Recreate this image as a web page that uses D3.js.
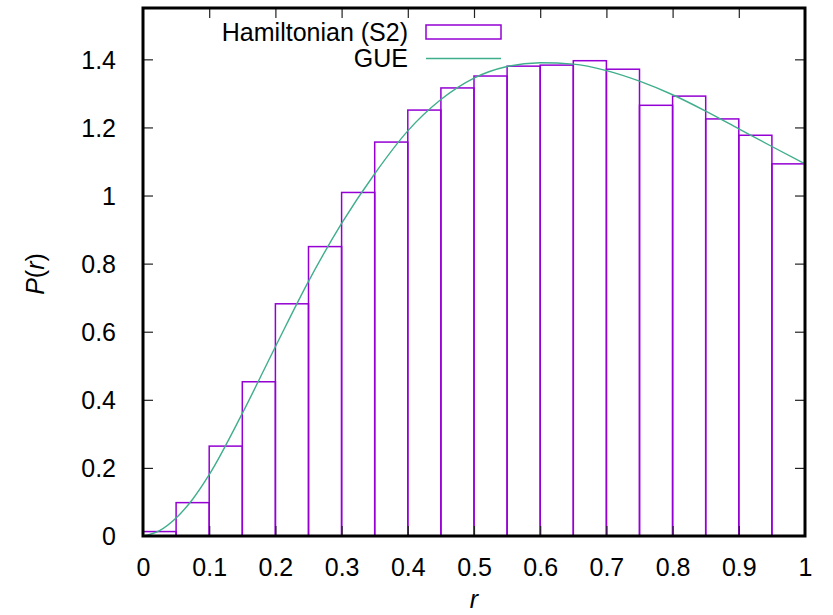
<!DOCTYPE html>
<html>
<head>
<meta charset="utf-8">
<script src="https://cdn.jsdelivr.net/npm/d3@7"></script>
<style>
  html, body { margin: 0; padding: 0; background: #fff; }
  svg { display: block; }
  text { font-family: "Liberation Sans", Arial, sans-serif; fill: #000; }
</style>
</head>
<body>
<svg id="chart" width="833" height="615"></svg>
<script>
// ---- data ----
const binStarts = [0, 0.05, 0.1, 0.15, 0.2, 0.25, 0.3, 0.35, 0.4, 0.45,
                   0.5, 0.55, 0.6, 0.65, 0.7, 0.75, 0.8, 0.85, 0.9, 0.95];
const binWidth = 0.05;
const hamiltonianS2 = [0.013, 0.098, 0.264, 0.453, 0.682, 0.850, 1.009, 1.157, 1.251, 1.316,
                       1.351, 1.380, 1.383, 1.396, 1.371, 1.265, 1.292, 1.225, 1.177, 1.093];
const gueR = [0, 0.025, 0.05, 0.075, 0.1, 0.15, 0.2, 0.25, 0.3, 0.35, 0.4, 0.45,
              0.5, 0.55, 0.6, 0.65, 0.7, 0.75, 0.8, 0.85, 0.9, 0.95, 1];
const gueP = [0, 0.016, 0.053, 0.108, 0.18, 0.36, 0.556, 0.748, 0.918, 1.064, 1.19, 1.282,
              1.345, 1.379, 1.39, 1.386, 1.367, 1.336, 1.296, 1.248, 1.196, 1.144, 1.093];
const xTicks = [0, 0.1, 0.2, 0.3, 0.4, 0.5, 0.6, 0.7, 0.8, 0.9, 1];
const yTicks = [0, 0.2, 0.4, 0.6, 0.8, 1, 1.2, 1.4];
const legendLabels = ["Hamiltonian (S2)", "GUE"];

// ---- layout ----
const svg = d3.select("#chart");
const L = 143, R = 805, T = 8, B = 536;
const x = d3.scaleLinear().domain([0, 1]).range([L, R]);
const y = d3.scaleLinear().domain([0, 1.5508]).range([B, T]);
const purple = "#9400d3";
const green = "#3fae8c";
const fontSize = 25;

// bars
svg.append("g").selectAll("rect").data(binStarts).join("rect")
  .attr("x", d => x(d))
  .attr("y", (d, i) => y(hamiltonianS2[i]))
  .attr("width", x(binWidth) - x(0))
  .attr("height", (d, i) => y(0) - y(hamiltonianS2[i]))
  .attr("fill", "none")
  .attr("stroke", purple)
  .attr("stroke-width", 1.5);

// GUE curve
const line = d3.line()
  .x((d, i) => x(gueR[i]))
  .y(d => y(d))
  .curve(d3.curveMonotoneX);
svg.append("path").datum(gueP)
  .attr("d", line)
  .attr("fill", "none")
  .attr("stroke", green)
  .attr("stroke-width", 1.4);

// axes with inward ticks (mirrored)
const tickLen = 10;
const axB = svg.append("g").attr("transform", `translate(0,${B})`)
  .call(d3.axisBottom(x).tickValues(xTicks).tickSize(-tickLen).tickPadding(tickLen + 12)
        .tickFormat(d => d3.format("")(d)));
const axT = svg.append("g").attr("transform", `translate(0,${T})`)
  .call(d3.axisTop(x).tickValues(xTicks).tickSize(-tickLen).tickFormat(""));
const axL = svg.append("g").attr("transform", `translate(${L},0)`)
  .call(d3.axisLeft(y).tickValues(yTicks).tickSize(-tickLen).tickPadding(tickLen + 17)
        .tickFormat(d => d3.format("")(d)));
const axR = svg.append("g").attr("transform", `translate(${R},0)`)
  .call(d3.axisRight(y).tickValues(yTicks).tickSize(-tickLen).tickFormat(""));

[axB, axT, axL, axR].forEach(g => {
  g.select(".domain").remove();
  g.selectAll(".tick line").attr("stroke", "#222").attr("stroke-width", 1.2);
  g.selectAll("text").attr("font-family", "'Liberation Sans', Arial, sans-serif")
    .attr("font-size", fontSize).attr("fill", "#000");
});
axB.selectAll(".tick").filter(d => d === 0 || d === 1).select("line").remove();
axT.selectAll(".tick").filter(d => d === 0 || d === 1).remove();
axL.selectAll(".tick").filter(d => d === 0).select("line").remove();
axR.selectAll(".tick").filter(d => d === 0).remove();
axL.selectAll("text").attr("dy", "0.35em");

// border
svg.append("rect")
  .attr("x", L).attr("y", T).attr("width", R - L).attr("height", B - T)
  .attr("fill", "none").attr("stroke", "#000").attr("stroke-width", 3);

// axis titles
const yl = svg.append("text")
  .attr("transform", `translate(44,${(T + B) / 2 + 2}) rotate(-90)`)
  .attr("text-anchor", "middle").attr("font-size", fontSize);
yl.append("tspan").attr("font-style", "italic").text("P");
yl.append("tspan").text("(");
yl.append("tspan").attr("font-style", "italic").text("r");
yl.append("tspan").text(")");

svg.append("text").attr("x", 474).attr("y", 608)
  .attr("text-anchor", "middle").attr("font-size", fontSize)
  .attr("font-style", "italic").text("r");

// legend
const legX = 408, legY = [32, 58];
const leg = svg.append("g");
leg.selectAll("text").data(legendLabels).join("text")
  .attr("x", legX).attr("y", (d, i) => legY[i])
  .attr("dy", "0.35em").attr("text-anchor", "end")
  .attr("font-size", 25).text(d => d);
leg.append("rect").attr("x", 426).attr("y", 25).attr("width", 75).attr("height", 14)
  .attr("fill", "none").attr("stroke", purple).attr("stroke-width", 1.5);
leg.append("line").attr("x1", 426).attr("x2", 501).attr("y1", 58.5).attr("y2", 58.5)
  .attr("stroke", green).attr("stroke-width", 1.4);
</script>
</body>
</html>
